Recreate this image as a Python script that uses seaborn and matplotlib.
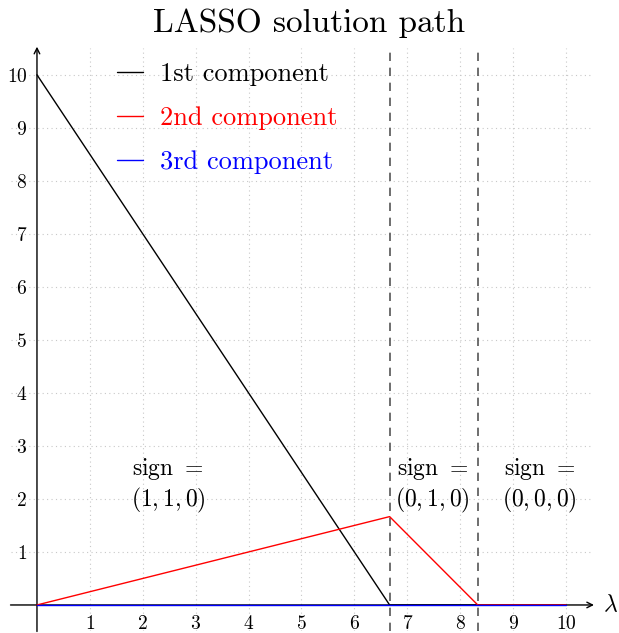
import numpy as np
import pandas as pd
import seaborn as sns
import matplotlib.pyplot as plt

# datos del camino LASSO
lam = [0, 20/3, 25/3, 10]
comp1 = [10, 0, 0, 0]
comp2 = [0, 5/3, 0, 0]
comp3 = [0, 0, 0, 0]
nombres = ['1st component', '2nd component', '3rd component']
colores = ['black', 'red', 'blue']
cortes = [20/3, 25/3]
ticks = list(range(1, 11))
etiquetas_sign = ['(1, 1, 0)', '(0, 1, 0)', '(0, 0, 0)']
pos_sign = [2.48, 7.48, 9.5]

sns.set_style('white')
plt.rcParams['font.family'] = ['cmr10', 'DejaVu Serif']
plt.rcParams['mathtext.fontset'] = 'cm'
plt.rcParams['axes.formatter.use_mathtext'] = True
plt.rcParams['text.color'] = 'black'
plt.rcParams['xtick.color'] = 'black'
plt.rcParams['ytick.color'] = 'black'

df = pd.DataFrame({'lambda': lam * 3,
                   'valor': comp1 + comp2 + comp3,
                   'comp': [n for n in nombres for _ in lam]})

fig = plt.figure(figsize=(6.19, 6.33), dpi=100)
ax = fig.add_axes([0.017, 0.0024, 0.940, 0.9213])

ax.set_xlim(-0.5, 10.5)
ax.set_ylim(-0.5, 10.5)
ax.set_xticks(ticks)
ax.set_yticks(ticks)
ax.grid(True, color='#c8c8c8', ls=(0, (1, 3)), lw=0.8)

for c in cortes:
    ax.axvline(c, color='#555555', ls=(0, (5, 4)), lw=1.2, zorder=2)

sns.lineplot(data=df, x='lambda', y='valor', hue='comp', palette=colores,
             lw=1.0, ax=ax, zorder=3, legend=False)

# ejes con flechas
ax.annotate('', xy=(10.53, 0), xytext=(-0.5, 0), annotation_clip=False,
            arrowprops=dict(arrowstyle='->', lw=1.0, color='black', shrinkA=0, shrinkB=0), zorder=1)
ax.annotate('', xy=(0, 10.53), xytext=(0, -0.5), annotation_clip=False,
            arrowprops=dict(arrowstyle='->', lw=1.0, color='black', shrinkA=0, shrinkB=0), zorder=1)
ax.text(10.71, 0, r'$\lambda$', fontsize=17, va='center', ha='left', clip_on=False)

for s in ['top', 'right']:
    ax.spines[s].set_visible(False)
ax.spines['left'].set_position(('data', 0))
ax.spines['bottom'].set_position(('data', 0))
ax.spines['left'].set_color('none')
ax.spines['bottom'].set_color('none')
ax.tick_params(length=0, labelsize=14, pad=7)
ax.set_xlabel('')
ax.set_ylabel('')

for x, t in zip(pos_sign, etiquetas_sign):
    ax.text(x, 2.26, 'sign $=$\n$' + t + '$', ha='center', va='center',
            fontsize=17, linespacing=1.2)

handles = [plt.Line2D([], [], color=c, lw=1.0) for c in colores]
ax.legend(handles, nombres, loc='upper left', bbox_to_anchor=(1.51, 10.24),
          bbox_transform=ax.transData, borderaxespad=0, borderpad=0,
          frameon=False, fontsize=19, labelcolor=colores, handlelength=1.0,
          labelspacing=0.78, handletextpad=0.65)

fig.suptitle('LASSO solution path', fontsize=24, y=0.987, color='black')
fig.savefig('out.png', dpi=100)
